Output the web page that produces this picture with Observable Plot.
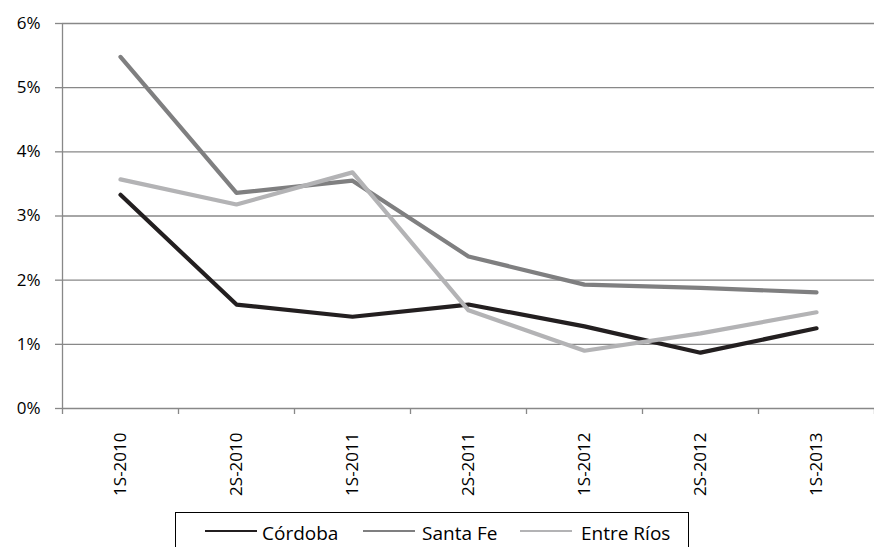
<!DOCTYPE html>
<html>
<head>
<meta charset="utf-8">
<script src="https://cdn.jsdelivr.net/npm/d3@7"></script>
<script src="https://cdn.jsdelivr.net/npm/@observablehq/plot@0.6"></script>
<style>
  html, body { margin: 0; padding: 0; background: #fff; overflow: hidden; }
  #chart { position: relative; width: 874px; height: 547px; font-family: "Open Sans", sans-serif; }
  #legendbox {
    position: absolute; left: 175px; top: 512px; width: 514px; height: 44px;
    border: 1.5px solid #000; box-sizing: border-box; background: #fff;
  }
  .sw { position: absolute; height: 2px; top: 530px; width: 52px; }
  .lt { position: absolute; top: 520px; font-size: 19px; line-height: 26px; color: #000; white-space: nowrap; }
</style>
</head>
<body>
<div id="chart"></div>
<script>
const periods = ["1S-2010", "2S-2010", "1S-2011", "2S-2011", "1S-2012", "2S-2012", "1S-2013"];
const cordoba  = [0.0333, 0.0162, 0.0143, 0.0162, 0.0128, 0.0087, 0.0125];
const santaFe  = [0.0548, 0.0336, 0.0355, 0.0237, 0.0193, 0.0188, 0.0181];
const entreRios = [0.0357, 0.0318, 0.0368, 0.0153, 0.0090, 0.0117, 0.0150];
const seriesNames = ["Córdoba", "Santa Fe", "Entre Ríos"];
const seriesColors = ["#231f20", "#7f7f80", "#b3b3b5"];
const yTicks = [0, 0.01, 0.02, 0.03, 0.04, 0.05, 0.06];

const seriesValues = [cordoba, santaFe, entreRios];
const rows = [];
seriesValues.forEach((vals, s) => vals.forEach((v, i) => rows.push({series: seriesNames[s], i, v})));
const idx = periods.map((_, i) => i);
const bounds = periods.map((_, i) => i - 0.5).concat([periods.length - 0.5]);

const chart = Plot.plot({
  width: 874,
  height: 512,
  marginLeft: 62,
  marginRight: 0,
  marginTop: 23,
  marginBottom: 104,
  style: {fontFamily: "'Open Sans', sans-serif", fontSize: "17px", color: "#000", background: "#fff"},
  x: {type: "linear", domain: [-0.5, periods.length - 0.5]},
  y: {type: "linear", domain: [0, 0.06]},
  color: {domain: seriesNames, range: seriesColors},
  marks: [
    Plot.ruleY(yTicks.filter(d => d > 0), {stroke: "#888", strokeWidth: 1.3}),
    Plot.ruleX([-0.5], {stroke: "#888", strokeWidth: 1.3}),
    Plot.ruleY([0], {stroke: "#888", strokeWidth: 1.3}),
    Plot.axisY({ticks: yTicks, tickFormat: d3.format(".0%"), tickSize: 7, tickPadding: 15, stroke: "#888", strokeWidth: 1.3, strokeOpacity: 1, fontSize: 17, label: null}),
    Plot.axisX({ticks: bounds, tickFormat: () => "", tickSize: 6, stroke: "#888", strokeWidth: 1.3, strokeOpacity: 1, label: null}),
    Plot.axisX({ticks: idx, tickFormat: i => periods[i], tickSize: 0, tickPadding: 24, tickRotate: -90, fontSize: 17, label: null}),
    Plot.line(rows, {x: "i", y: "v", z: "series", stroke: "series", strokeWidth: 4.2, strokeLinecap: "round", strokeLinejoin: "round"})
  ]
});
const root = document.getElementById("chart");
root.appendChild(chart);

const box = document.createElement("div");
box.id = "legendbox";
root.appendChild(box);
const swX = [205, 363, 520];
const txX = [262, 422, 581];
seriesNames.forEach((n, s) => {
  const sw = document.createElement("div");
  sw.className = "sw";
  sw.style.left = swX[s] + "px";
  sw.style.background = seriesColors[s];
  const t = document.createElement("span");
  t.className = "lt";
  t.style.left = txX[s] + "px";
  t.textContent = n;
  root.appendChild(sw); root.appendChild(t);
});
</script>
</body>
</html>
